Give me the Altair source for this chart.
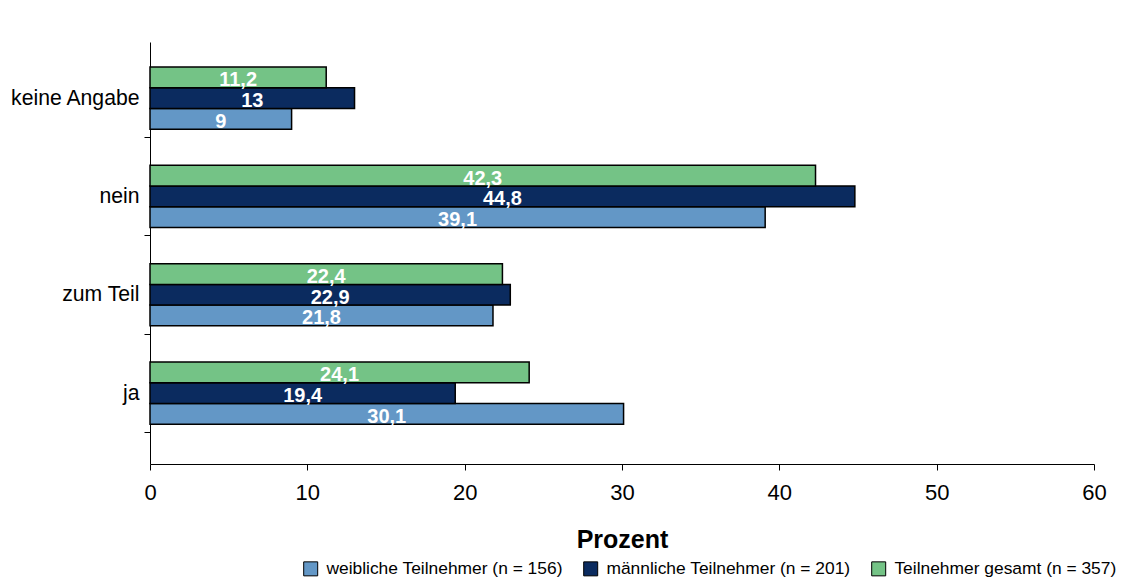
import altair as alt
import pandas as pd

categories = ["keine Angabe", "nein", "zum Teil", "ja"]
series = [
    "weibliche Teilnehmer (n = 156)",
    "männliche Teilnehmer (n = 201)",
    "Teilnehmer gesamt (n = 357)",
]
weiblich = [9.0, 39.1, 21.8, 30.1]
maennlich = [13.0, 44.8, 22.9, 19.4]
gesamt = [11.2, 42.3, 22.4, 24.1]
colors = ["#6397C6", "#0B2B5F", "#74C386"]
x_ticks = [0, 10, 20, 30, 40, 50, 60]


def fmt(v):
    return str(int(v)) if float(v).is_integer() else str(v).replace(".", ",")


rows = []
for s, vals in zip(series, [weiblich, maennlich, gesamt]):
    for c, v in zip(categories, vals):
        rows.append({"Kategorie": c, "Serie": s, "Wert": v, "Label": fmt(v)})
df = pd.DataFrame(rows)

font = "Liberation Sans"

y_enc = alt.Y(
    "Kategorie:N",
    sort=categories,
    scale=alt.Scale(paddingInner=0, paddingOuter=0.1465, align=0.243),
    axis=alt.Axis(
        title=None,
        tickBand="center",
        tickOffset=39,
        labelOffset=-39,
        tickSize=6,
        tickColor="black",
        domainColor="black",
        labelColor="black",
        labelFontSize=21.2,
        labelFont=font,
        labelPadding=5,
        labelLimit=0,
        minExtent=142,
        maxExtent=142,
        grid=False,
    ),
)
yoff_enc = alt.YOffset(
    "Serie:N",
    sort=[series[2], series[1], series[0]],
    scale=alt.Scale(paddingInner=0, paddingOuter=0.87),
)
x_axis = alt.Axis(
    title="Prozent",
    values=x_ticks,
    grid=False,
    tickSize=6,
    tickColor="black",
    domainColor="black",
    labelColor="black",
    labelFontSize=22,
    labelFont=font,
    labelPadding=12,
    labelFlush=False,
    titleFont=font,
    titleFontSize=25,
    titleFontWeight="bold",
    titleColor="black",
    titlePadding=24,
)

bars = alt.Chart(df).mark_bar(stroke="black", strokeWidth=1.5).encode(
    x=alt.X("Wert:Q", scale=alt.Scale(domain=[0, 60], nice=False), axis=x_axis),
    y=y_enc,
    yOffset=yoff_enc,
    color=alt.Color(
        "Serie:N",
        sort=series,
        scale=alt.Scale(domain=series, range=colors),
        legend=alt.Legend(
            title=None,
            orient="none",
            legendX=152,
            legendY=518,
            direction="horizontal",
            symbolType="square",
            symbolSize=196,
            symbolStrokeColor="black",
            symbolStrokeWidth=1,
            symbolOpacity=1,
            labelFontSize=17.4,
            labelFont=font,
            labelColor="black",
            labelLimit=0,
            labelOffset=7,
            columnPadding=18,
        ),
    ),
)

labels = alt.Chart(df).transform_calculate(
    Mitte="datum.Wert / 2"
).mark_text(
    color="white", fontWeight="bold", fontSize=20, font=font, baseline="middle", dy=3
).encode(
    x=alt.X("Mitte:Q", scale=alt.Scale(domain=[0, 60], nice=False)),
    y=y_enc,
    yOffset=yoff_enc,
    text="Label:N",
)

chart = (
    alt.layer(bars, labels)
    .properties(width=944, height=422, padding={"left": 0, "top": 34, "right": 0, "bottom": 0})
    .configure(font=font)
    .configure_view(strokeWidth=0, stroke="transparent")
)

chart.save("out.html", embed_options={"renderer": "svg", "actions": False})
